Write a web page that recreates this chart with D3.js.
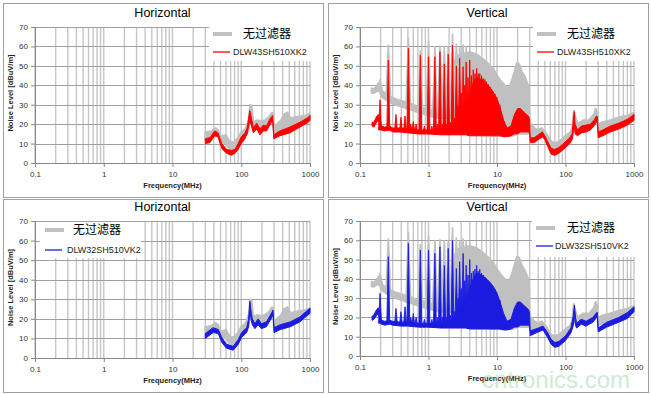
<!DOCTYPE html>
<html>
<head>
<meta charset="utf-8">
<script src="https://cdn.jsdelivr.net/npm/d3@7"></script>
<style>
  body { margin: 0; background: #fff; }
  text { font-family: "Liberation Sans", Arial, sans-serif; }
</style>
</head>
<body>
<svg id="chart" width="651" height="394"></svg>
<script>
// axes
const freqTicks = [0.1, 1, 10, 100, 1000];
const levelTicks = [0, 10, 20, 30, 40, 50, 60, 70];
const titles = ["Horizontal", "Vertical", "Horizontal", "Vertical"];
const noFilterName = "无过滤器";
const redName = "DLW43SH510XK2";
const blueName = "DLW32SH510VK2";

// bands : [MHz, low dBuV/m, high dBuV/m]
// spikes: [MHz, base dBuV/m, peak dBuV/m]

// no filter, horizontal (30 MHz - 1 GHz)
const hNoFilter = [
  [30, 12, 16], [33, 12.5, 16], [37, 13.5, 16.5], [42, 15, 18], [46, 14, 17],
  [50, 10, 13.5], [55, 10, 14], [60, 10.5, 14.5], [65, 8, 12], [72, 7, 10.5],
  [80, 7, 11], [90, 9, 13], [100, 12, 16], [110, 13.5, 17], [120, 15, 19],
  [128, 17, 22], [135, 24, 30], [142, 22, 29], [150, 17, 21], [170, 18, 22],
  [190, 17.5, 21.5], [220, 18.5, 22], [250, 20, 23.5], [280, 22, 26], [292, 22, 25.5],
  [300, 14, 18], [330, 15, 20], [380, 17, 22], [420, 18, 25], [470, 19, 26],
  [520, 18, 23], [600, 19, 23.5], [700, 20, 24], [850, 21, 24.5], [1000, 22.5, 25.5]
];

// DLW43SH510XK2, horizontal
const hRed = [
  [30, 10, 12.5], [35, 10.5, 13], [41, 14, 16.5], [46, 13.5, 15.5], [52, 7.5, 10],
  [61, 5, 7], [72, 4, 6.5], [81, 5, 7], [90, 7, 10], [100, 10, 13.5],
  [113, 12.5, 15.5], [122, 15, 18], [133, 22, 27], [141, 19, 23], [150, 15.5, 18],
  [168, 17.5, 20.5], [187, 14.5, 17.5], [209, 16.5, 19.5], [233, 16.5, 19], [260, 19.5, 22.5],
  [286, 22, 24.5], [298, 12.5, 14.5], [364, 14, 16.5], [508, 15.5, 18.5], [715, 18.5, 21],
  [947, 21, 23.5], [1000, 22, 24.5]
];

// DLW32SH510VK2, horizontal
const hBlue = [
  [30, 10, 12.5], [39, 13, 15.5], [46.5, 12.5, 14.5], [52, 8, 10.5], [61, 5, 7],
  [76.5, 4, 6], [90.5, 7, 9.5], [101, 10.5, 13], [120, 13, 15.5], [128, 16, 20],
  [133.5, 24, 29], [140, 19, 23], [145, 17, 20], [158, 15, 17.5], [176, 17, 20],
  [196, 15, 17.5], [233, 16, 18.5], [276, 20.5, 23], [290, 22.5, 24.5], [300, 13, 15.5],
  [370, 14.5, 17], [520, 16, 18.5], [715, 18.5, 21], [1000, 23, 25.5]
];

// no filter, vertical (150 kHz - 1 GHz)
const vNoFilter = [
  [0.148, 36, 38.5], [0.16, 36, 38], [0.175, 37, 39.5], [0.185, 38, 41], [0.21, 34, 37],
  [0.23, 33, 36], [0.28, 31, 34], [0.33, 30, 33], [0.4, 29, 32], [0.45, 28.5, 31.5],
  [0.55, 27.5, 30.5], [0.65, 26.5, 29.5], [0.8, 25.5, 28.5], [1.0, 24.5, 27.5], [1.2, 23.5, 27],
  [1.5, 23, 28], [1.8, 23, 30], [2.1, 23, 34], [2.4, 22, 52], [2.6, 20, 55],
  [3.0, 18, 56], [4.0, 16, 57], [5.0, 15, 56], [6.0, 15, 54], [7.0, 15, 52],
  [8.0, 14, 50], [9.0, 14, 48], [10, 14, 45], [11.5, 14, 42], [13, 14, 40],
  [15, 14, 38.5], [17, 14, 44], [19.5, 15, 51.5], [21, 15, 51], [23, 15, 47],
  [25.5, 15, 44.5], [29.5, 15, 38.5], [30, 15, 20], [32, 14, 20], [35, 13, 18],
  [40, 14, 17], [45, 15, 18], [50, 13, 16], [55, 11, 14], [62, 7, 11],
  [70, 6.5, 10.5], [80, 7.5, 11], [90, 9, 12.5], [100, 11, 14], [115, 12, 15.5],
  [125, 14, 18], [132, 20, 27], [138, 17, 24], [150, 16, 20], [180, 18, 22],
  [220, 18, 22], [260, 21, 25], [275, 23, 28], [290, 22, 26], [300, 16, 20],
  [350, 17, 21], [450, 18, 22], [600, 19.5, 23.5], [800, 21, 24.5], [1000, 23, 26]
];
const vNoFilterSpikes = [
  [0.196, 37, 43], [0.259, 33, 61], [0.508, 28, 64.5], [0.76, 26, 58], [1.0, 25, 62.5],
  [1.24, 24, 60], [1.47, 24, 60.5], [1.7, 24, 60], [1.94, 24, 60], [2.24, 24, 66.7],
  [2.55, 30, 61.5], [2.85, 30, 60], [3.2, 30, 61], [3.55, 30, 60], [4.0, 30, 59]
];

// DLW43SH510XK2, vertical
const vRed = [
  [0.15, 19, 21], [0.16, 18.5, 21], [0.175, 21, 24], [0.185, 22, 25], [0.205, 17, 19],
  [0.23, 16.5, 18.5], [0.27, 17, 19], [0.3, 16, 18], [0.4, 16, 18], [0.5, 15.5, 17.5],
  [0.7, 15, 17], [1.0, 15, 17], [1.5, 14.5, 16.5], [2.0, 14.5, 17.5], [2.5, 14.5, 20],
  [3.0, 14.5, 24], [3.5, 14.5, 30], [4.0, 14, 36], [4.5, 14, 41], [5.0, 14, 44],
  [6.0, 14, 43], [7.0, 14, 41], [8.0, 14, 38.5], [9.0, 14, 36], [10, 14, 33],
  [11, 14, 29], [12.5, 13.5, 22], [14, 13.5, 18], [16, 14, 19], [18, 15, 25],
  [20, 15, 28], [22, 16, 28], [25, 16, 26], [29, 16, 24], [30, 15, 22],
  [30.5, 10.5, 13], [35, 10.5, 13], [40, 12, 14.5], [46, 13.5, 16], [50, 12, 14],
  [55, 8.5, 11], [62, 4.5, 7.5], [70, 4, 7], [80, 5, 8], [90, 6.5, 9.5],
  [100, 8, 11], [115, 10, 13], [125, 12, 15], [130, 16, 22], [134, 20, 26.5],
  [138, 15, 20], [150, 14, 17], [170, 15.5, 19], [200, 16, 19.5], [230, 17, 20],
  [260, 19, 22], [280, 21, 24], [292, 21, 24], [300, 13, 16], [350, 14, 17],
  [450, 16, 19], [600, 17.5, 20.5], [800, 19.5, 22.5], [1000, 22, 25]
];
const vRedSpikes = [
  [0.196, 17, 32.5], [0.259, 17, 53], [0.335, 16, 25], [0.396, 16, 23.5], [0.454, 16, 24.2],
  [0.508, 16, 59], [0.55, 16, 20], [0.6, 16, 21.3], [0.66, 15.5, 20], [0.76, 15, 55.6],
  [0.87, 15, 19], [1.0, 15, 54.7], [1.12, 15, 19], [1.24, 15, 54.7], [1.35, 15, 20],
  [1.47, 15, 57.3], [1.6, 15, 20], [1.7, 15, 51], [1.82, 15, 20], [1.94, 15, 56],
  [2.1, 15, 21], [2.24, 15, 60.7], [2.4, 15, 23], [2.55, 15, 50], [2.7, 15, 30],
  [2.85, 15, 54], [3.02, 15, 36], [3.2, 15, 49.6], [3.37, 15, 40], [3.55, 15, 52],
  [3.77, 15, 44], [4.0, 15, 53], [4.25, 15, 45], [4.5, 15, 48], [4.77, 15, 46],
  [5.05, 15, 48.7], [5.3, 15, 46], [5.6, 15, 46], [5.95, 15, 45], [6.3, 15, 43.6],
  [6.65, 15, 43], [7.0, 15, 41.8], [7.45, 15, 40.5], [7.9, 15, 39.3], [8.35, 15, 38],
  [8.8, 15, 36.7], [9.35, 15, 35.5], [9.9, 15, 34], [11, 15, 30]
];

// DLW32SH510VK2, vertical
const vBlue = [
  [0.15, 18.5, 20.5], [0.16, 19, 21.5], [0.175, 21, 24], [0.185, 22, 25], [0.205, 16.5, 18.5],
  [0.23, 16, 18], [0.27, 16.5, 18.5], [0.3, 16, 18], [0.4, 15.5, 17.5], [0.5, 15.5, 17.5],
  [0.7, 15, 17], [1.0, 15, 17], [1.5, 14.5, 16.5], [2.0, 14.5, 17.5], [2.5, 14.5, 20],
  [3.0, 14.5, 24], [3.5, 14.5, 29], [4.0, 14, 35], [4.5, 14, 40], [5.0, 14, 43],
  [6.0, 14, 42], [7.0, 14, 40], [8.0, 14, 38], [9.0, 14, 35.5], [10, 14, 32.5],
  [11, 14, 28.5], [12.5, 13.5, 22], [14, 13.5, 18], [16, 14, 19], [18, 15, 25],
  [20, 15, 28], [22, 16, 28], [25, 16, 26], [29, 16, 24], [30, 15, 22],
  [30.5, 10.5, 13], [40, 12.5, 14.5], [47, 13.5, 15.5], [55, 9.5, 12], [62, 6, 8.5],
  [70, 4.5, 7], [80, 5, 7.5], [100, 8, 10.5], [120, 12, 14.5], [130, 16, 21],
  [135, 21, 26.4], [140, 16, 20], [145, 14.5, 17], [170, 16.5, 19], [200, 15.5, 18],
  [250, 17.5, 20], [285, 20, 22.5], [292, 20, 22.5], [300, 12.5, 14.5], [400, 15, 17.5],
  [600, 17.5, 20], [800, 19.5, 22.5], [1000, 23, 25.5]
];
const vBlueSpikes = [
  [0.196, 17, 32.5], [0.259, 17, 51.5], [0.335, 16, 24.7], [0.396, 16, 23], [0.454, 16, 25.5],
  [0.508, 16, 58.4], [0.55, 16, 20], [0.6, 16, 22], [0.66, 15.5, 20], [0.76, 15, 55],
  [0.87, 15, 19], [1.0, 15, 55], [1.12, 15, 19], [1.24, 15, 53.2], [1.35, 15, 20],
  [1.47, 15, 56.6], [1.6, 15, 20], [1.7, 15, 47], [1.82, 15, 20], [1.94, 15, 55.8],
  [2.1, 15, 21], [2.24, 15, 60], [2.4, 15, 23], [2.55, 15, 45.4], [2.7, 15, 30],
  [2.85, 15, 48.9], [3.02, 15, 35], [3.2, 15, 53.2], [3.37, 15, 39], [3.55, 15, 47],
  [3.77, 15, 42], [4.0, 15, 50], [4.25, 15, 43], [4.5, 15, 44], [4.77, 15, 45],
  [5.05, 15, 47], [5.3, 15, 44], [5.6, 15, 45], [5.95, 15, 43], [6.3, 15, 42],
  [6.65, 15, 41], [7.0, 15, 40], [7.45, 15, 39], [7.9, 15, 38], [8.35, 15, 37],
  [8.8, 15, 36], [9.35, 15, 34.5], [9.9, 15, 33], [11, 15, 29]
];

const GRAY = "#c0c0c0", RED = "#ff0000", BLUE = "#1c1ce0";

const panels = [
  { box: [3, 3, 320, 194], plot: [35, 310, 27, 163], title: titles[0],
    nf: hNoFilter, nfSpikes: [], band: hRed, spikes: [], color: RED, name: redName,
    legBox: [209, 22, 103, 39], leg: { x: 213, y1: 34, y2: 52, t1: 243, t2: 233 } },
  { box: [328, 3, 320, 194], plot: [360, 634, 27, 163], title: titles[1],
    nf: vNoFilter, nfSpikes: vNoFilterSpikes, band: vRed, spikes: vRedSpikes, color: RED, name: redName,
    legBox: [533, 22, 103, 39], leg: { x: 537, y1: 34, y2: 52, t1: 567, t2: 557 } },
  { box: [3, 199, 320, 193], plot: [35, 310, 221, 358], title: titles[2],
    nf: hNoFilter, nfSpikes: [], band: hBlue, spikes: [], color: BLUE, name: blueName,
    legBox: [40, 222, 101, 36], leg: { x: 45, y1: 230, y2: 250, t1: 73, t2: 67 } },
  { box: [328, 199, 320, 193], plot: [360, 634, 221, 356], title: titles[3],
    nf: vNoFilter, nfSpikes: vNoFilterSpikes, band: vBlue, spikes: vBlueSpikes, color: BLUE, name: blueName,
    legBox: [532, 219, 104, 38], leg: { x: 536, y1: 228, y2: 246, t1: 567, t2: 555 } }
];

const svg = d3.select("#chart");

// minor + major frequency gridlines
const gridFreqs = [];
[0.1, 1, 10, 100].forEach(dec => {
  for (let m = 1; m < 10; m++) gridFreqs.push(dec * m);
});
gridFreqs.push(1000);

panels.forEach(p => {
  const [l, r, t, b] = p.plot;
  const x = d3.scaleLog().domain([0.1, 1000]).range([l, r]);
  const y = d3.scaleLinear().domain([0, 70]).range([b, t]);
  const g = svg.append("g");

  g.append("rect")
    .attr("x", p.box[0] + 0.5).attr("y", p.box[1] + 0.5)
    .attr("width", p.box[2]).attr("height", p.box[3])
    .attr("fill", "#fff").attr("stroke", "#a0a0a0");

  // gridlines
  g.selectAll(".vg").data(gridFreqs).join("line")
    .attr("x1", d => x(d)).attr("x2", d => x(d))
    .attr("y1", y(0)).attr("y2", y(70))
    .attr("stroke", "#c6c6c6").attr("stroke-width", 1.4);
  g.selectAll(".hg").data(levelTicks).join("line")
    .attr("x1", l).attr("x2", r)
    .attr("y1", d => Math.round(y(d)) + 0.5).attr("y2", d => Math.round(y(d)) + 0.5)
    .attr("stroke", "#a0a0a0").attr("stroke-width", 1);

  // axes
  const yAxis = d3.axisLeft(y).tickValues(levelTicks).tickSize(4).tickFormat(d3.format("d"));
  const xAxis = d3.axisBottom(x).tickValues(freqTicks).tickSize(4).tickFormat(d => String(d));
  const ya = g.append("g").attr("transform", `translate(${l},0)`).call(yAxis);
  const xa = g.append("g").attr("transform", `translate(0,${b})`).call(xAxis);
  [ya, xa].forEach(a => {
    a.select(".domain").attr("stroke", "#888");
    a.selectAll(".tick line").attr("stroke", "#888");
    a.selectAll("text").attr("font-size", 8).attr("fill", "#333")
      .style("font-family", "Liberation Sans, Arial, sans-serif");
  });
  xa.selectAll("text").attr("dy", "0.9em");

  const area = d3.area().x(d => x(d[0])).y0(d => y(d[1])).y1(d => y(d[2]));
  const spikePath = hw => d =>
    `M${x(d[0]) - hw},${y(d[1])}L${x(d[0])},${y(d[2])}L${x(d[0]) + hw},${y(d[1])}Z`;

  // no-filter trace
  g.append("path").datum(p.nf).attr("d", area)
    .attr("fill", GRAY).attr("stroke", GRAY).attr("stroke-width", 2).attr("stroke-linejoin", "round");
  g.selectAll(".nfs").data(p.nfSpikes).join("path")
    .attr("d", spikePath(2.4)).attr("fill", GRAY).attr("stroke", GRAY).attr("stroke-width", 1.6);

  // filtered trace
  g.append("path").datum(p.band).attr("d", area)
    .attr("fill", p.color).attr("stroke", p.color).attr("stroke-width", 1).attr("stroke-linejoin", "round");
  g.selectAll(".fs").data(p.spikes).join("path")
    .attr("d", spikePath(1.5)).attr("fill", p.color).attr("stroke", p.color).attr("stroke-width", 0.9);

  // legend
  g.append("rect").attr("x", p.legBox[0]).attr("y", p.legBox[1])
    .attr("width", p.legBox[2]).attr("height", p.legBox[3]).attr("fill", "#fff");
  g.append("line").attr("x1", p.leg.x).attr("x2", p.leg.x + 19)
    .attr("y1", p.leg.y1).attr("y2", p.leg.y1)
    .attr("stroke", GRAY).attr("stroke-width", 4);
  g.append("text").attr("x", p.leg.t1).attr("y", p.leg.y1).attr("dy", "0.35em")
    .attr("font-size", 12).style("font-family", "Noto Sans CJK SC, sans-serif")
    .attr("fill", "#000").text(noFilterName);
  g.append("line").attr("x1", p.leg.x).attr("x2", p.leg.x + 17)
    .attr("y1", p.leg.y2).attr("y2", p.leg.y2)
    .attr("stroke", p.color).attr("stroke-width", 1.3);
  g.append("text").attr("x", p.leg.t2).attr("y", p.leg.y2).attr("dy", "0.35em")
    .attr("font-size", 9).attr("fill", "#222").text(p.name);

  // titles
  g.append("text").attr("x", (l + r) / 2 - 10).attr("y", t - 10)
    .attr("text-anchor", "middle").attr("font-size", 12.5).attr("fill", "#000")
    .text(p.title);
  g.append("text").attr("x", (l + r) / 2).attr("y", b + 25)
    .attr("text-anchor", "middle").attr("font-size", 7.5).attr("font-weight", "bold")
    .attr("fill", "#222").text("Frequency(MHz)");
  g.append("text")
    .attr("transform", `translate(${l - 22},${(t + b) / 2 - 2}) rotate(-90)`)
    .attr("text-anchor", "middle").attr("font-size", 7.5).attr("font-weight", "bold")
    .attr("fill", "#222").text("Noise Level [dBuV/m]");
});

// watermark
svg.append("text").attr("x", 482).attr("y", 388)
  .attr("font-size", 24).attr("fill", "#9fd6b0").attr("opacity", 0.5)
  .text("cntronics.com");
</script>
</body>
</html>
